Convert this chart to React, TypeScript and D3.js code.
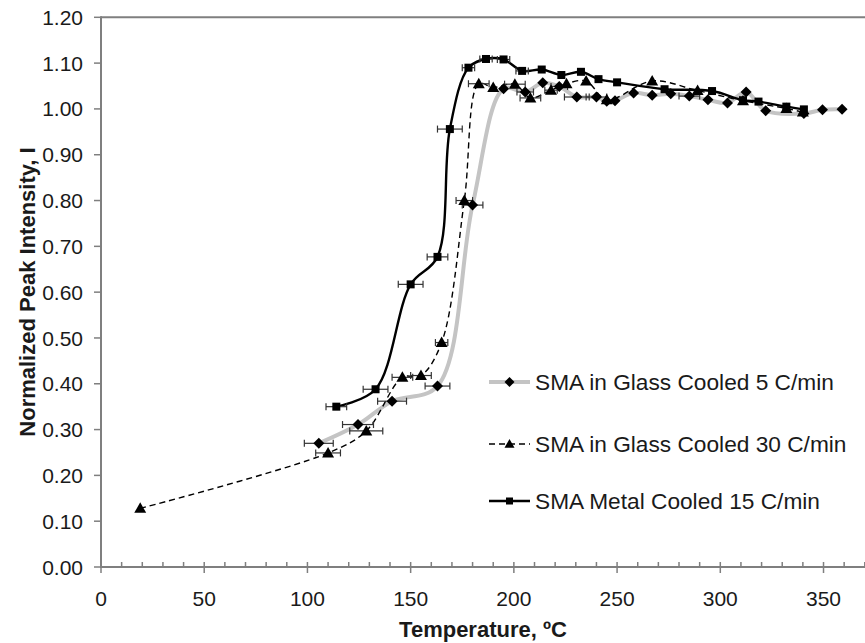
import React from 'react';
import * as d3 from 'd3';

// SMA in Glass Cooled 5 C/min (diamonds, gray line)
const glass5T = [105.5, 124.5, 141, 163, 180, 195, 205.5, 214, 222, 230.5, 240, 245, 249, 258, 267, 276, 285, 294, 303.5, 312.5, 322, 340.5, 349.5, 359];
const glass5V = [0.270, 0.311, 0.362, 0.395, 0.790, 1.044, 1.037, 1.057, 1.049, 1.026, 1.026, 1.017, 1.018, 1.035, 1.030, 1.033, 1.028, 1.020, 1.013, 1.037, 0.996, 0.990, 0.998, 0.999];
const glass5E = [7, 7.5, 7, 6, 5, 0, 4, 0, 4, 6, 5, 0, 0, 0, 0, 0, 5, 0, 0, 0, 0, 0, 0, 0];

// SMA in Glass Cooled 30 C/min (triangles, dashed line)
const glass30T = [19, 110, 128.5, 146, 155, 165, 176, 183, 190, 200.5, 208, 218, 225.5, 235, 245, 267, 289, 311, 332, 340];
const glass30V = [0.128, 0.249, 0.297, 0.414, 0.418, 0.490, 0.800, 1.055, 1.047, 1.054, 1.024, 1.041, 1.055, 1.061, 1.020, 1.061, 1.040, 1.018, 1.001, 0.993];
const glass30E = [0, 6, 8, 5, 5, 3, 4, 5, 0, 5, 5, 3, 0, 0, 0, 0, 0, 0, 0, 0];

// SMA Metal Cooled 15 C/min (squares, solid line)
const metalT = [114, 133, 150, 163, 169, 178, 186.5, 195, 204, 213.5, 223, 232.5, 241, 250, 273, 296, 311, 318.5, 332, 340.5];
const metalV = [0.350, 0.388, 0.617, 0.677, 0.956, 1.090, 1.109, 1.108, 1.083, 1.086, 1.074, 1.081, 1.065, 1.058, 1.043, 1.039, 1.019, 1.016, 1.005, 0.999];
const metalE = [5, 6, 6, 5, 6, 3, 3, 3, 3, 0, 0, 0, 0, 0, 0, 0, 0, 0, 0, 0];

const xTicks = [0, 50, 100, 150, 200, 250, 300, 350];
const yTicks = [0, 0.1, 0.2, 0.3, 0.4, 0.5, 0.6, 0.7, 0.8, 0.9, 1.0, 1.1, 1.2];
const legendLabels = ['SMA in Glass Cooled 5 C/min', 'SMA in Glass Cooled 30 C/min', 'SMA Metal Cooled 15 C/min'];

const W = 865, H = 643;
const x = d3.scaleLinear().domain([0, 370]).range([101, 864.8]);
const y = d3.scaleLinear().domain([0, 1.2]).range([567, 17.3]);

const FONT = 'Liberation Sans, Arial, sans-serif';
const TXT = '#1a1a1a';

type Pt = { t: number; v: number; e: number };
const mk = (T: number[], V: number[], E: number[]): Pt[] => T.map((t, i) => ({ t, v: V[i], e: E[i] }));
const s5 = mk(glass5T, glass5V, glass5E);
const s30 = mk(glass30T, glass30V, glass30E);
const sM = mk(metalT, metalV, metalE);

const line = d3.line<Pt>().x(d => x(d.t)).y(d => y(d.v)).curve(d3.curveCatmullRom.alpha(0.5));

function Diamond({ cx, cy, r = 5.5 }: { cx: number; cy: number; r?: number }) {
  return <path d={`M${cx},${cy - r}L${cx + r},${cy}L${cx},${cy + r}L${cx - r},${cy}Z`} fill="#000" />;
}
function Tri({ cx, cy, r = 6 }: { cx: number; cy: number; r?: number }) {
  return <path d={`M${cx},${cy - r}L${cx + r},${cy + r * 0.75}L${cx - r},${cy + r * 0.75}Z`} fill="#000" />;
}
function Sq({ cx, cy, r = 4 }: { cx: number; cy: number; r?: number }) {
  return <rect x={cx - r} y={cy - r} width={2 * r} height={2 * r} fill="#000" />;
}

function ErrBars({ data }: { data: Pt[] }) {
  return (
    <g stroke="#333" strokeWidth={1.2}>
      {data.filter(d => d.e > 0).map((d, i) => {
        const x0 = x(d.t - d.e), x1 = x(d.t + d.e), yy = y(d.v);
        return (
          <g key={i}>
            <line x1={x0} x2={x1} y1={yy} y2={yy} />
            <line x1={x0} x2={x0} y1={yy - 3.5} y2={yy + 3.5} />
            <line x1={x1} x2={x1} y1={yy - 3.5} y2={yy + 3.5} />
          </g>
        );
      })}
    </g>
  );
}

export default function App() {
  const minor = d3.range(0, 371, 10);
  const legY = [382, 444, 501];
  return (
    <svg width={W} height={H} style={{ position: 'absolute', left: 0, top: 0, background: '#fff' }}>
      {/* axes */}
      <line x1={101} x2={W} y1={y(1.2)} y2={y(1.2)} stroke="#7f7f7f" strokeWidth={2} />
      <line x1={101} x2={101} y1={y(1.2) - 1} y2={y(0)} stroke="#7f7f7f" strokeWidth={2} />
      <line x1={100} x2={W} y1={y(0)} y2={y(0)} stroke="#7f7f7f" strokeWidth={2} />
      {yTicks.map(t => (
        <g key={t}>
          <line x1={94} x2={101} y1={y(t)} y2={y(t)} stroke="#7f7f7f" strokeWidth={1.5} />
          <text x={83} y={y(t)} dy="0.36em" textAnchor="end" fontFamily={FONT} fontSize={21} fill={TXT}>{t.toFixed(2)}</text>
        </g>
      ))}
      {minor.map(t => (
        <line key={t} x1={x(t)} x2={x(t)} y1={y(0) - 5} y2={t % 50 === 0 ? y(0) + 6 : y(0)} stroke="#7f7f7f" strokeWidth={1.5} />
      ))}
      {xTicks.map(t => (
        <text key={t} x={x(t)} y={606} textAnchor="middle" fontFamily={FONT} fontSize={21} fill={TXT}>{t}</text>
      ))}
      <text x={483} y={637} textAnchor="middle" fontFamily={FONT} fontSize={22} fontWeight="bold" fill={TXT}>Temperature, ºC</text>
      <text transform={`translate(35,292) rotate(-90)`} textAnchor="middle" fontFamily={FONT} fontSize={22} fontWeight="bold" fill={TXT}>Normalized Peak Intensity, I</text>

      {/* series lines */}
      <path d={line(s5) || ''} fill="none" stroke="#c4c4c4" strokeWidth={4} />
      <path d={line(s30) || ''} fill="none" stroke="#000" strokeWidth={1.4} strokeDasharray="6,4" />
      <path d={line(sM) || ''} fill="none" stroke="#000" strokeWidth={2.4} />

      <ErrBars data={s5} />
      <ErrBars data={s30} />
      <ErrBars data={sM} />

      {s5.map((d, i) => <Diamond key={i} cx={x(d.t)} cy={y(d.v)} />)}
      {s30.map((d, i) => <Tri key={i} cx={x(d.t)} cy={y(d.v)} />)}
      {sM.map((d, i) => <Sq key={i} cx={x(d.t)} cy={y(d.v)} />)}

      {/* legend */}
      <g>
        <line x1={489} x2={530} y1={legY[0]} y2={legY[0]} stroke="#c4c4c4" strokeWidth={4} />
        <Diamond cx={509.5} cy={legY[0]} r={5} />
        <line x1={489} x2={530} y1={legY[1]} y2={legY[1]} stroke="#000" strokeWidth={1.4} strokeDasharray="6,4" />
        <Tri cx={509.5} cy={legY[1]} r={5} />
        <line x1={489} x2={530} y1={legY[2]} y2={legY[2]} stroke="#000" strokeWidth={2.4} />
        <Sq cx={509.5} cy={legY[2]} r={3.5} />
        {legendLabels.map((l, i) => (
          <text key={i} x={535} y={legY[i]} dy="0.36em" fontFamily={FONT} fontSize={22.7} fill={TXT}>{l}</text>
        ))}
      </g>
    </svg>
  );
}
